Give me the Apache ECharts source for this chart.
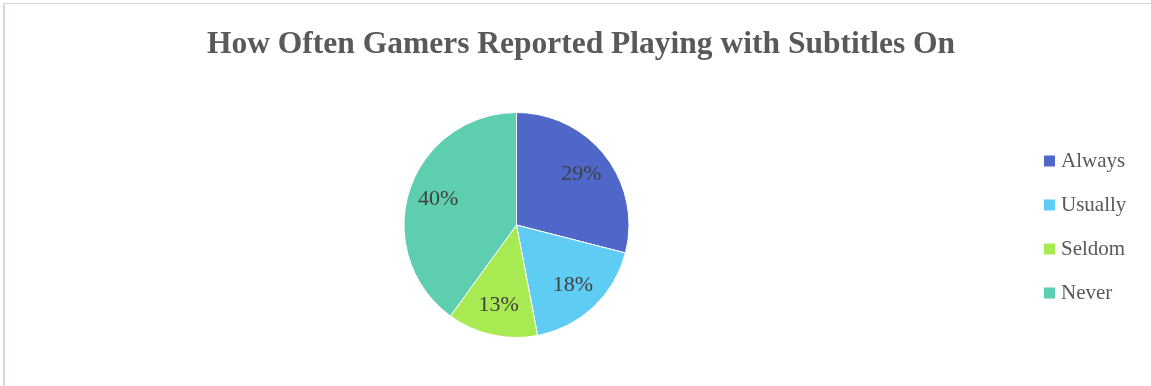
<!DOCTYPE html>
<html>
<head>
<meta charset="utf-8">
<title>How Often Gamers Reported Playing with Subtitles On</title>
<script src="https://cdn.jsdelivr.net/npm/echarts@6/dist/echarts.min.js"></script>
<style>
  html, body { margin: 0; padding: 0; background: #ffffff; }
  #chart { width: 1151px; height: 386px; }
</style>
</head>
<body>
<div id="chart"></div>
<script>
// Survey answers and their shares (percent)
const categories = ['Always', 'Usually', 'Seldom', 'Never'];
const shares = [29, 18, 13, 40];
const sliceColors = ['#4e67c8', '#5eccf3', '#a7ea52', '#5dceaf'];

const titleText = 'How Often Gamers Reported Playing with Subtitles On';
const serif = '"Liberation Serif", "DejaVu Serif", serif';

const chart = echarts.init(document.getElementById('chart'), null, { renderer: 'canvas' });

const pieCenter = [516.5, 225];
const pieRadius = 112.5;

const slices = categories.map((name, i) => ({
  name: name,
  value: shares[i],
  itemStyle: { color: sliceColors[i] }
}));

chart.setOption({
  animation: false,
  backgroundColor: '#ffffff',
  color: sliceColors,
  title: {
    text: titleText,
    left: 576,
    top: 24,
    textAlign: 'center',
    textStyle: {
      fontFamily: serif,
      fontWeight: 'bold',
      fontSize: 31.5,
      color: '#595959'
    }
  },
  legend: {
    orient: 'vertical',
    left: 1042,
    top: 150.5,
    padding: 0,
    itemWidth: 13,
    itemHeight: 13,
    itemGap: 23,
    icon: 'rect',
    data: categories,
    textStyle: {
      fontFamily: serif,
      fontSize: 21,
      lineHeight: 20,
      color: '#595959'
    }
  },
  graphic: [
    { type: 'line', silent: true, shape: { x1: 3, y1: 3.5, x2: 1151, y2: 3.5 },
      style: { stroke: '#d6d6ea', lineWidth: 1 } },
    { type: 'line', silent: true, shape: { x1: 4, y1: 3, x2: 4, y2: 386 },
      style: { stroke: '#d6d6ea', lineWidth: 2 } }
  ],
  series: [
    {
      type: 'pie',
      name: 'shares',
      center: pieCenter,
      radius: [0, pieRadius],
      startAngle: 90,
      clockwise: true,
      silent: true,
      label: { show: false },
      labelLine: { show: false },
      itemStyle: { borderColor: '#ffffff', borderWidth: 1 },
      data: slices
    },
    {
      // transparent ring that carries the percentage labels
      type: 'pie',
      name: 'labels',
      center: pieCenter,
      radius: [46, pieRadius],
      startAngle: 90,
      clockwise: true,
      silent: true,
      itemStyle: { color: 'rgba(0,0,0,0)' },
      emphasis: { disabled: true },
      label: {
        show: true,
        position: 'inside',
        formatter: p => p.value + '%',
        fontFamily: serif,
        fontSize: 22,
        color: '#404040'
      },
      labelLine: { show: false },
      data: categories.map((name, i) => ({ name: name, value: shares[i] }))
    }
  ]
});
</script>
</body>
</html>
